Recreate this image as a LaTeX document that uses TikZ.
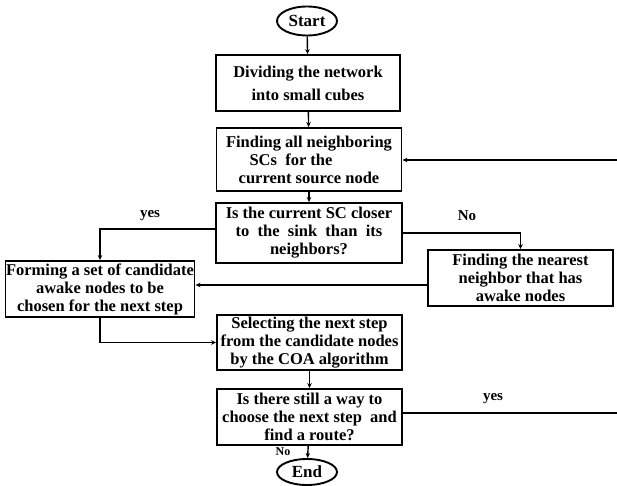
\documentclass[tikz,border=0pt]{standalone}
\usepackage{fontspec}
\setmainfont{Liberation Serif}
\usetikzlibrary{arrows.meta,shapes.geometric}
\begin{document}
\begin{tikzpicture}[x=1pt,y=-1pt,
 box/.style={draw, line width=1.9pt, inner sep=0pt, align=center, font=\fontsize{16.5}{18}\selectfont\bfseries},
 term/.style={ellipse, draw, line width=1.9pt, minimum width=60pt, minimum height=28pt, inner sep=0pt, font=\fontsize{17}{19}\selectfont\bfseries},
 arr/.style={line width=1.4pt, -{Stealth[length=5pt,width=4.5pt]}},
 ln/.style={line width=1.4pt},
 lab/.style={font=\fontsize{15}{18}\selectfont\bfseries, inner sep=0pt}]
\useasboundingbox (0,0) rectangle (617,486);
\node[term, minimum height=29pt] (start) at (307,21) {Start};
\node[box, minimum width=184pt, minimum height=56pt] (b1) at (308,83) {Dividing the network\\[5pt]into small cubes};
\node[box, minimum width=185pt, minimum height=63pt] (b2) at (309,159.5) {Finding all neighboring\\SCs~~for the\hspace*{36pt}\mbox{}\\current source node};
\node[box, minimum width=186pt, minimum height=60pt] (b3) at (309,233) {Is the current SC closer\\to~ the~ sink~ than~ its\\neighbors?};
\node[box, minimum width=189pt, minimum height=56pt] (b4) at (100,289) {Forming a set of candidate\\awake nodes to be\\chosen for the next step};
\node[box, minimum width=185pt, minimum height=56pt] (b5) at (520.5,278) {Finding the nearest\\neighbor that has\\awake nodes};
\node[box, minimum width=185pt, minimum height=55pt] (b6) at (309.5,342.5) {Selecting the next step\\from the candidate nodes\\by the COA algorithm};
\node[box, minimum width=185pt, minimum height=56pt] (b7) at (309.5,417) {Is there still a way to\\choose the next step~ and\\find a route?};
\node[term, minimum height=26pt] (end) at (307,472) {End};
\coordinate (r1) at (617,413);
\coordinate (r2) at (617,160);
\draw[arr] (start) -- (b1);
\draw[arr] (b1) -- (b2);
\draw[arr] (b2) -- (b3);
\draw[arr] ([yshift=4pt]b3.west) -| (b4.north);
\draw[arr] (b3.east) -| (b5.north);
\draw[arr] ([yshift=-7pt]b5.west) -- ([yshift=-7pt]b5.west -| b4.east);
\draw[arr] (b4.south) |- (b6.west);
\draw[arr] (b6) -- (b7);
\draw[arr] (b7) -- (end);
\draw[ln] (b7.east |- r1) -- (r1);
\draw[arr] (r2) -- (r2 -| b2.east);
\node[lab] (l1) at (150,216) {yes};
\node[lab] (l2) at (467,216) {No};
\node[lab] (l3) at (493,399) {yes};
\node[lab, font=\fontsize{12}{14}\selectfont\bfseries] (l4) at (283,452) {No};
\end{tikzpicture}
\end{document}
